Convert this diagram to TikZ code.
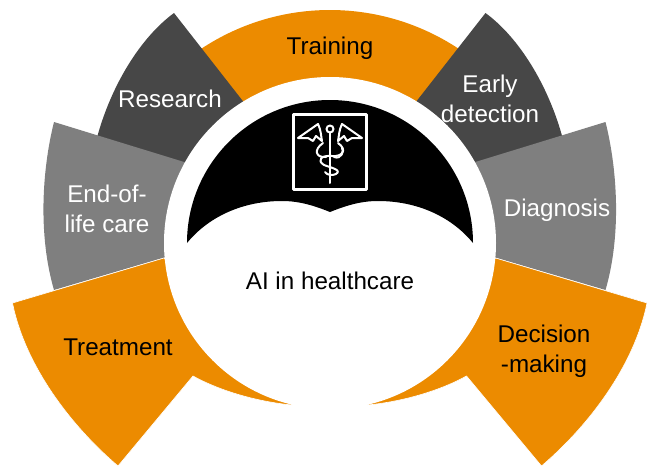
\documentclass[tikz,border=0pt]{standalone}
\usepackage{fontspec}
\setmainfont{Liberation Sans}
\usepackage{xcolor}
\definecolor{petalorange}{RGB}{236,139,0}
\definecolor{petaldark}{RGB}{71,71,71}
\definecolor{petalgray}{RGB}{127,127,127}
\usepackage{tikz}

\begin{document}
\begin{tikzpicture}[x=1pt,y=-1pt,semithick,
                    every node/.style={align=center,font=\fontsize{24.2}{30}\selectfont}]
  \tikzstyle{darktext}=[text=black]
  \tikzstyle{lighttext}=[text=white]
  \tikzstyle{petal}=[draw=white,line width=.6pt]
  \tikzstyle{icon}=[draw=white,line width=2pt,line cap=round,line join=round]

  \useasboundingbox (0,0) rectangle (648,466);

  % outer ring, back to front
  \fill[petalorange] (193,54.5) arc (234:306:233) -- (430,120) -- (230,120) -- cycle;
  \fill[petaldark] (174,13) .. controls (140,38) and (112,85) .. (98,134) -- (95,145) -- (220,173) -- (260,123) -- cycle;
  \fill[petaldark] (485.5,13) .. controls (519.5,38) and (547.5,85) .. (561.5,134) -- (564.5,145) -- (439.5,173) -- (399.5,123) -- cycle;
  \fill[petalgray] (54,122) .. controls (42,170) and (38,235) .. (54,290) -- (200,247) -- (220,173) -- cycle;
  \fill[petalgray] (605.5,122) .. controls (617.5,170) and (621.5,235) .. (605.5,290) -- (459.5,247) -- (439.5,173) -- cycle;
  \path[petal,fill=petalorange] (12.5,303) .. controls (25,365) and (70,425) .. (118,466)
        -- (193,376) .. controls (222,392) and (260,402) .. (292,405) -- (164,258) -- cycle;
  \path[petal,fill=petalorange] (647,303) .. controls (634.5,365) and (589.5,425) .. (541.5,466)
        -- (466.5,376) .. controls (437.5,392) and (399.5,402) .. (367.5,405) -- (495.5,258) -- cycle;

  % hub
  \coordinate (hub) at (330,243);
  \fill[white] (hub) circle (166);
  \fill[black] (187,243) arc (180:360:143)
        .. controls (450,215) and (415,201) .. (378,201) .. controls (360,201) and (345,206) .. (330,212)
        .. controls (315,206) and (300,201) .. (282,201) .. controls (245,201) and (210,215) .. (187,243) -- cycle;

  % caduceus
  \draw[icon,line width=3pt] (293.5,114.5) rectangle (366.5,189);
  \draw[icon] (330,133) -- (330,183);
  \draw[icon] (330,129) circle (3.5);
  \draw[icon] (298,138) -- (318,124) .. controls (321,130) and (321,136) .. (322,141) -- (316,136) -- (313,141) -- (308,138) -- cycle;
  \draw[icon] (362,138) -- (342,124) .. controls (339,130) and (339,136) .. (338,141) -- (344,136) -- (347,141) -- (352,138) -- cycle;
  \draw[icon] (338,143) .. controls (348,150) and (342,157) .. (332,156) .. controls (322,155) and (316,160) .. (324,165)
        .. controls (332,168) and (342,170) .. (336,174) .. controls (332,176) and (327,175) .. (325,172);
  \draw[icon] (323,143) .. controls (313,150) and (316,158) .. (326,157);
  \draw[icon] (334,157) .. controls (342,160) and (344,150) .. (342,148);

  % labels
  \node[darktext] (ai) at (330,281) {AI in healthcare};
  \node[darktext] (training) at (330,48) {Training};
  \node[lighttext] (research) at (170,99) {Research};
  \node[lighttext] (detection) at (490,99) {Early\\detection};
  \node[lighttext] (endoflife) at (107,209) {End-of-\\life care};
  \node[lighttext] (diagnosis) at (557,210) {Diagnosis};
  \node[darktext] (treatment) at (118,347) {Treatment};
  \node[darktext] (decision) at (544,351) {Decision\\-making};

\end{tikzpicture}
\end{document}
